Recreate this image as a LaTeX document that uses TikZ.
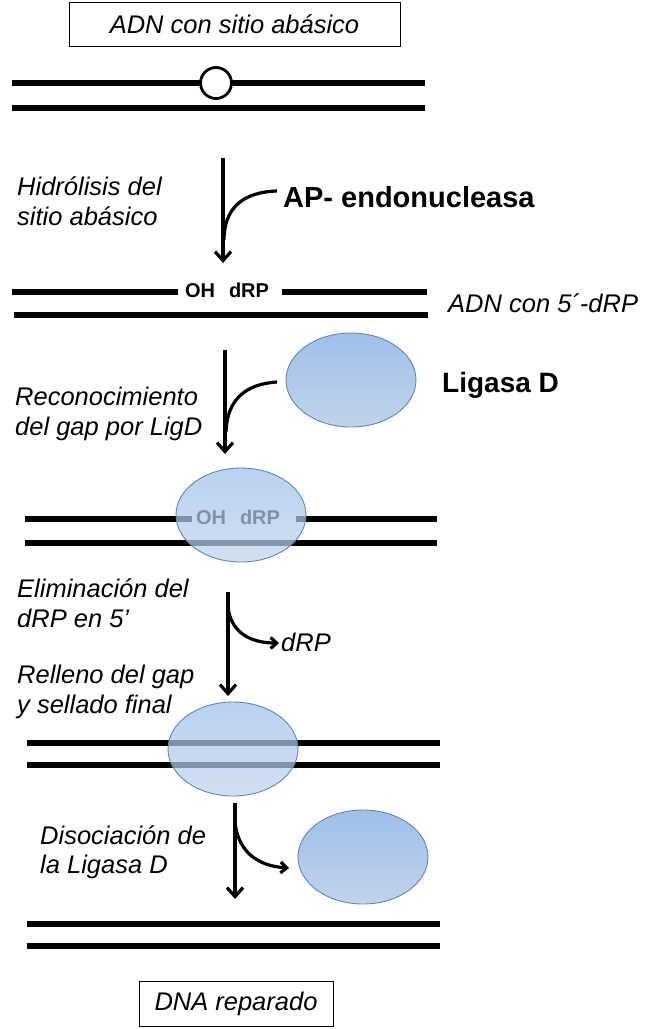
\documentclass[tikz,border=0pt]{standalone}
\usepackage{fontspec}
\setmainfont{Liberation Sans}
\usetikzlibrary{shapes.geometric,arrows.meta}
\definecolor{ligtop}{HTML}{9FC0EA}
\definecolor{ligbot}{HTML}{C2D3EA}
\definecolor{ligdraw}{HTML}{5F86BA}
\tikzset{
  strand/.style={line width=5.3pt},
  lig/.style={ellipse, draw=ligdraw, line width=0.9pt, top color=ligtop, bottom color=ligbot,
    minimum width=130pt, minimum height=94pt, inner sep=0pt},
  ligbound/.style={lig, fill opacity=0.72},
  lbl/.style={font=\fontsize{25.5}{29.5}\selectfont\itshape, align=left, inner sep=0pt, anchor=west},
  boxed/.style={draw, line width=1pt, font=\fontsize{25.5}{29.5}\selectfont\itshape, inner sep=0pt},
  enz/.style={font=\fontsize{29}{33}\selectfont\bfseries, inner sep=0pt, anchor=west},
  ends/.style={font=\fontsize{20}{24}\selectfont\bfseries, inner sep=0pt},
  flow/.style={line width=3.2pt, -{Straight Barb[length=9pt,width=16pt]}},
  flowc/.style={line width=3.2pt, -{Straight Barb[length=6pt,width=11pt]}},
  joinc/.style={line width=3.2pt},
}
\begin{document}
\begin{tikzpicture}[x=1pt,y=-1pt]
\useasboundingbox (0,0) rectangle (650,1029);

% --- top box and damaged DNA
\node[boxed, minimum width=331pt, minimum height=44pt] (top) at (234.5,24) {ADN con sitio abásico};
\draw[strand] (12,83) -- (425,83);
\draw[strand] (12,108) -- (425,108);
\node[circle, draw, line width=2.8pt, fill=white, minimum size=31pt, inner sep=0pt] (apsite) at (216,83) {};

% --- step 1
\coordinate (a1s) at (223,158);
\coordinate (a1e) at (223,263);
\draw[flow] (a1s) -- (a1e);
\node[enz] (ape) at (283,197) {AP- endonucleasa};
\coordinate (c1s) at (277,191);
\coordinate (c1e) at (224,240);
\draw[joinc] (c1s) .. controls (243,192) and (224,208) .. (c1e);
\node[lbl] (l1) at (17,201) {Hidrólisis del\\sitio abásico};

% --- nicked DNA
\draw[strand] (12,292) -- (178,292);
\draw[strand] (282,292) -- (427,292);
\node[ends] (oh1) at (227,290) {OH\hspace{14pt}dRP};
\draw[strand] (14,315) -- (428,315);
\node[lbl] (l2) at (448,303) {ADN con 5´-dRP};

% --- step 2
\node[lig] (ligfree) at (351,380) {};
\node[enz, font=\fontsize{28}{32}\selectfont\bfseries] (ligname) at (442,385) {Ligasa D};
\coordinate (a2s) at (225,350);
\coordinate (a2e) at (225,454);
\draw[flow] (a2s) -- (a2e);
\coordinate (c2s) at (277,382);
\coordinate (c2e) at (226,432);
\draw[joinc] (c2s) .. controls (245,384) and (227,400) .. (c2e);
\node[lbl] (l3) at (15,414) {Reconocimiento\\del gap por LigD};

% --- bound complex
\draw[strand] (25,519) -- (192,519);
\draw[strand] (296,519) -- (437,519);
\node[ends] (oh2) at (238,517) {OH\hspace{14pt}dRP};
\draw[strand] (25,543) -- (437,543);
\node[ligbound] (ligb1) at (241,515) {};

% --- step 3
\coordinate (a3s) at (228,592);
\coordinate (a3e) at (228,696);
\draw[flow] (a3s) -- (a3e);
\coordinate (c3s) at (228,606);
\coordinate (c3e) at (279,643);
\draw[flowc] (c3s) .. controls (230,632) and (250,643) .. (c3e);
\node[lbl] (drp) at (281,642) {dRP};
\node[lbl] (l4) at (17,603) {Eliminación del\\dRP en 5’};
\node[lbl] (l5) at (17,692) {Relleno del gap\\y sellado final};

% --- sealed complex
\draw[strand] (27,743) -- (440,743);
\draw[strand] (27,765) -- (440,765);
\node[ligbound] (ligb2) at (233,749) {};

% --- step 4
\coordinate (a4s) at (235,803);
\coordinate (a4e) at (235,899);
\draw[flow] (a4s) -- (a4e);
\coordinate (c4s) at (235,822);
\coordinate (c4e) at (289,868);
\draw[flowc] (c4s) .. controls (238,852) and (258,866) .. (c4e);
\node[lig] (ligout) at (363,857) {};
\node[lbl] (l6) at (40,852) {Disociación de\\la Ligasa D};

% --- repaired DNA
\draw[strand] (27,924) -- (440,924);
\draw[strand] (27,946) -- (440,946);
\node[boxed, minimum width=194pt, minimum height=45pt] (bot) at (236,1003.5) {DNA reparado};
\end{tikzpicture}
\end{document}
